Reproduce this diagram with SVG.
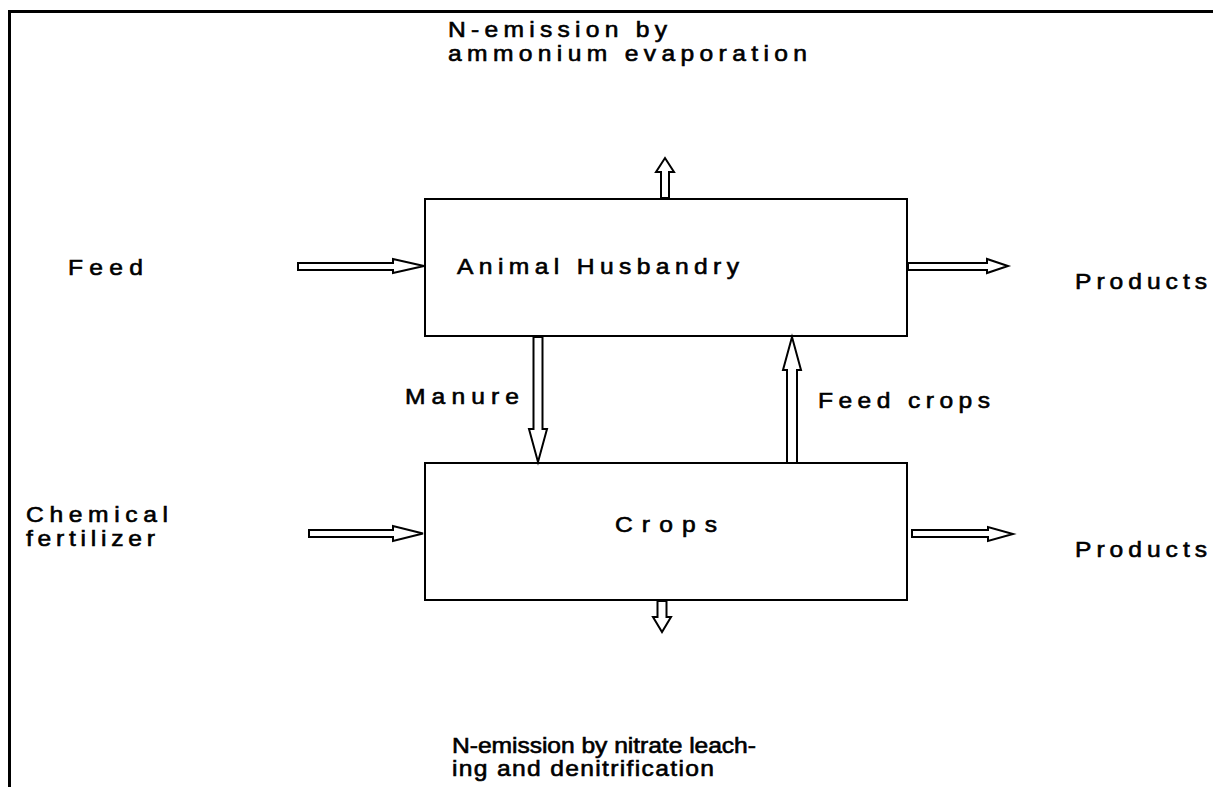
<svg xmlns="http://www.w3.org/2000/svg" width="1213" height="787" viewBox="0 0 1213 787">
<style>
.frame{stroke:#000;stroke-width:3;fill:none}
.box{fill:#fff;stroke:#000;stroke-width:2}
.arr{fill:#fff;stroke:#000;stroke-width:2;stroke-linejoin:miter}
text{font-family:"Liberation Sans",Arial,sans-serif;font-size:22px;fill:#000;stroke:#000;stroke-width:0.6}
</style>
<rect width="1213" height="787" fill="#fff"/>
<g id="frame">
<line class="frame" x1="9.5" y1="10" x2="9.5" y2="787"/>
<line class="frame" x1="8" y1="11.5" x2="1213" y2="11.5"/>
</g>
<g id="animal-husbandry">
<rect class="box" x="425" y="199" width="482" height="137"/>
<text transform="matrix(1.12 0 0 1 457 274)" textLength="251.8" lengthAdjust="spacing">Animal Husbandry</text>
</g>
<g id="crops">
<rect class="box" x="425" y="463" width="482" height="137"/>
<text transform="matrix(1.12 0 0 1 615 532)" textLength="91.1" lengthAdjust="spacing">Crops</text>
</g>
<g id="feed"><text transform="matrix(1.12 0 0 1 68 275)" textLength="67" lengthAdjust="spacing">Feed</text></g>
<g id="products-1"><text transform="matrix(1.12 0 0 1 1075 289)" textLength="117.9" lengthAdjust="spacing">Products</text></g>
<g id="products-2"><text transform="matrix(1.12 0 0 1 1075 557)" textLength="117.9" lengthAdjust="spacing">Products</text></g>
<g id="chemical-fertilizer">
<text transform="matrix(1.12 0 0 1 26 522)" textLength="126.8" lengthAdjust="spacing">Chemical</text>
<text transform="matrix(1.12 0 0 1 26 546)" textLength="115.2" lengthAdjust="spacing">fertilizer</text>
</g>
<g id="n-emission-ammonium">
<text transform="matrix(1.12 0 0 1 448 37)" textLength="195.5" lengthAdjust="spacing">N-emission by</text>
<text transform="matrix(1.12 0 0 1 448 61)" textLength="320.5" lengthAdjust="spacing">ammonium evaporation</text>
</g>
<g id="n-emission-nitrate">
<text transform="matrix(1.12 0 0 1 452 753)" textLength="271.4" lengthAdjust="spacing">N-emission by nitrate leach-</text>
<text transform="matrix(1.12 0 0 1 452 776)" textLength="233.9" lengthAdjust="spacing">ing and denitrification</text>
</g>
<g id="connectors">
<polygon class="arr" points="298,263 393,263 393,259 424,266 393,273 393,270 298,270"/>
<polygon class="arr" points="908,263 987,263 987,259 1008,266 987,273 987,270 908,270"/>
<polygon class="arr" points="309,530 393,530 393,526 423,533.5 393,541 393,537 309,537"/>
<polygon class="arr" points="912,530 988,530 988,527 1013,534 988,541 988,537 912,537"/>
<polygon class="arr" points="533.5,337 542.5,337 542.5,429 547,429 538,462 529,429 533.5,429"/>
<polygon class="arr" points="787,463 787,370 783,370 792,337 801,370 797,370 797,463"/>
<polygon class="arr" points="661,198 661,172 656,172 665,158 674,172 669,172 669,198"/>
<polygon class="arr" points="657.5,601 657.5,617 653,617 662,632 671,617 666.5,617 666.5,601"/>
<text transform="matrix(1.12 0 0 1 405 404)" textLength="101.8" lengthAdjust="spacing">Manure</text>
<text transform="matrix(1.12 0 0 1 818 408)" textLength="153.6" lengthAdjust="spacing">Feed crops</text>
</g>
</svg>
